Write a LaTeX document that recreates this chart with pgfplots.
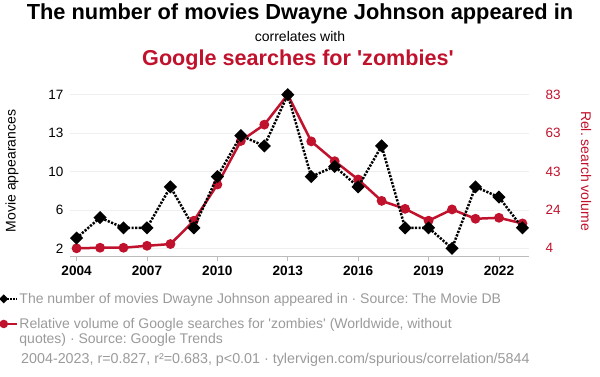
\documentclass[border=0pt]{standalone}
\usepackage{pgfplots}
\pgfplotsset{compat=1.18}
\usepackage{fontspec}
\setmainfont{Liberation Sans}[Ligatures=TeXOff]
\frenchspacing
\definecolor{zred}{HTML}{C0122C}
\definecolor{lgray}{HTML}{9A9A9A}
\definecolor{gridc}{HTML}{EFEFEF}
\definecolor{axisgray}{HTML}{BBBBBB}
\begin{document}
\begin{tikzpicture}[x=1pt,y=1pt]
\path[use as bounding box] (0,0) rectangle (600,376);
\node[font=\fontsize{21.8}{26}\selectfont\bfseries] at (300,362) {The number of movies Dwayne Johnson appeared in};
\node[font=\fontsize{14}{16}\selectfont] at (300,340) {correlates with};
\node[font=\fontsize{21.6}{26}\selectfont\bfseries, text=zred] at (298,316) {Google searches for 'zombies'};
\node[font=\fontsize{14}{16}\selectfont, rotate=90] at (12,205) {Movie appearances};
\node[font=\fontsize{14}{16}\selectfont, rotate=-90, text=zred] at (586,205) {Rel. search volume};
% right axis (red)
\begin{axis}[at={(70pt,120pt)}, anchor=south west, scale only axis,
  width=459pt, height=169pt,
  xmin=2003.72, xmax=2023.28, ymin=0.05, ymax=86.95,
  axis y line*=right, axis x line*=bottom,
  x axis line style={draw=axisgray, line width=0.8pt, -},
  y axis line style={draw=none},
  xtick={2004,2007,2010,2013,2016,2019,2022},
  xticklabels={2004,2007,2010,2013,2016,2019,2022},
  xticklabel style={font=\fontsize{13.6}{15}\selectfont\bfseries, yshift=-1pt},
  xtick style={draw=axisgray, line width=0.8pt},
  ytick={4,23.75,43.5,63.25,83},
  yticklabels={4,24,43,63,83},
  yticklabel style={font=\fontsize{13.5}{15}\selectfont, text=zred, xshift=8pt},
  ytick style={draw=none},
  major tick length=5pt, tick align=outside,
  ymajorgrids, major grid style={draw=gridc, line width=0.8pt},
  clip=false]
\addplot[color=zred, line width=2.5pt, mark=*, mark size=3.6pt] coordinates {
(2004,4) (2005,4.3) (2006,4.3) (2007,5.3) (2008,6.2) (2009,18.2) (2010,36.8)
(2011,59.2) (2012,67.6) (2013,83) (2014,59.0) (2015,48.8) (2016,39.4)
(2017,28.4) (2018,24.3) (2019,18.2) (2020,24.0) (2021,19.2) (2022,19.7) (2023,16.8)};
\end{axis}
% left axis (black)
\begin{axis}[at={(70pt,120pt)}, anchor=south west, scale only axis,
  width=459pt, height=169pt,
  xmin=2003.72, xmax=2023.28, ymin=1.25, ymax=17.75,
  axis y line*=left, axis x line=none,
  y axis line style={draw=none},
  ytick={2,5.75,9.5,13.25,17},
  yticklabels={2,6,10,13,17},
  yticklabel style={font=\fontsize{13.5}{15}\selectfont, xshift=-3pt},
  ytick style={draw=none},
  clip=false,
  legend cell align=left,
  legend style={at={(-0.152,-0.211)}, anchor=north west, draw=none, fill=none,
    font=\fontsize{14}{15}\selectfont, text=lgray, row sep=9.6pt, column sep=-1pt,
    cells={anchor=base west, inner sep=0pt, text height=10pt, text depth=3pt}, inner sep=0pt},
  legend image code/.code={\draw[mark repeat=2, mark phase=1, #1] plot coordinates {(3.3pt,5pt) (17pt,5pt)};}]
\addplot[color=black, line width=2.5pt, dash pattern=on 2.2pt off 1.4pt, mark=square*, mark size=3.4pt, mark options={rotate=45, solid},
  legend image post style={mark size=2.35pt, line width=1.8pt, dash pattern=on 1.8pt off 1.2pt}] coordinates {
(2004,3) (2005,5) (2006,4) (2007,4) (2008,8) (2009,4) (2010,9) (2011,13)
(2012,12) (2013,17) (2014,9) (2015,10) (2016,8) (2017,12) (2018,4) (2019,4)
(2020,2) (2021,8) (2022,7) (2023,4)};
\addlegendentry{The number of movies Dwayne Johnson appeared in · Source: The Movie DB}
\addlegendimage{color=zred, line width=2pt, mark=*, mark size=3.2pt}
\addlegendentry{\begin{tabular}[t]{@{}l@{}}Relative volume of Google searches for 'zombies' (Worldwide, without\\ quotes) · Source: Google Trends\end{tabular}}
\end{axis}
\node[font=\fontsize{14.3}{16}\selectfont, text=lgray, anchor=base west, inner sep=0pt] at (21,12.7) {2004-2023, r=0.827, r²=0.683, p<0.01 · tylervigen.com/spurious/correlation/5844};
\end{tikzpicture}
\end{document}
